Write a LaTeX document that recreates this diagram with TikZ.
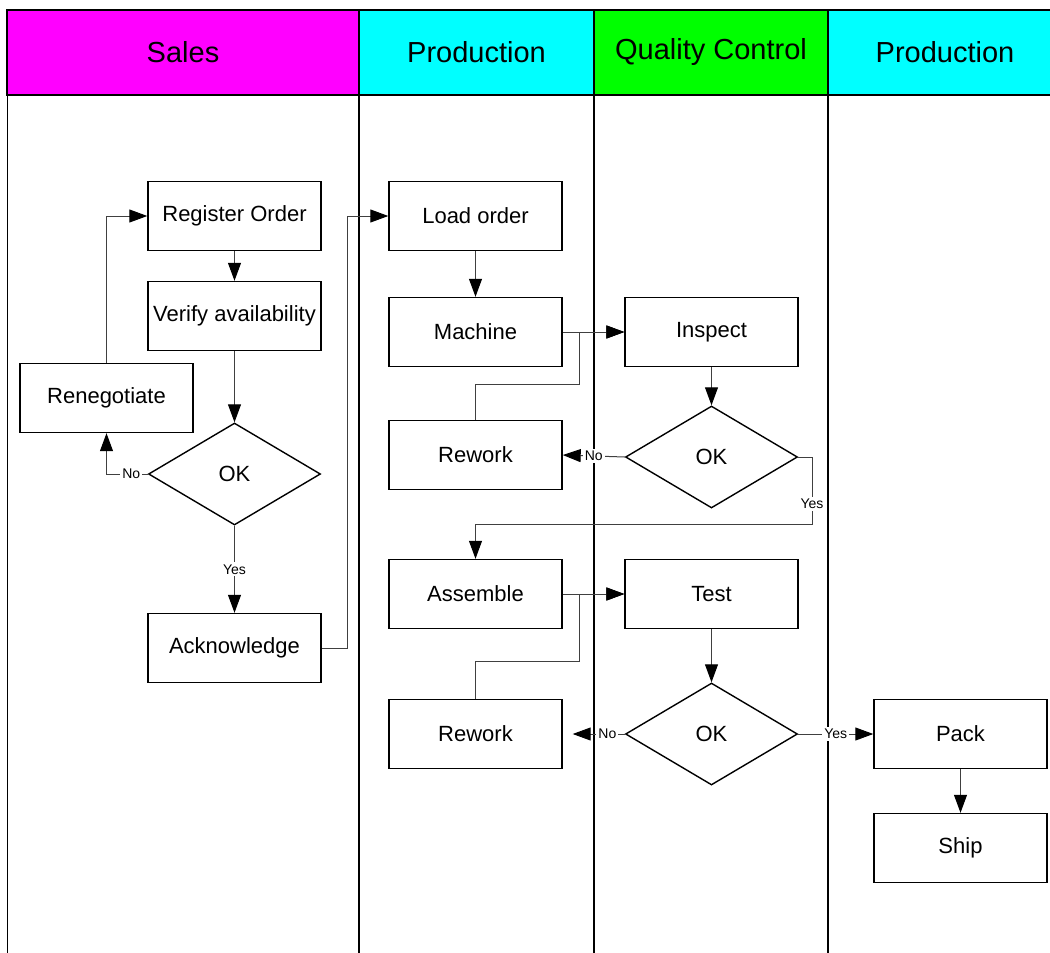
\documentclass[tikz,border=0pt]{standalone}
\usepackage{fontspec}
\setmainfont{Liberation Sans}
\usepackage{tikz}
\usetikzlibrary{shapes.geometric, arrows.meta, calc}
\definecolor{salespink}{HTML}{FF00FF}
\definecolor{prodcyan}{HTML}{00FFFF}
\definecolor{qcgreen}{HTML}{00FF00}
\definecolor{wiregray}{HTML}{404040}

\begin{document}
\begin{tikzpicture}[
      x=0.5pt, y=-0.5pt,
      lanehead/.style={
        minimum height=42.5pt,
        inner sep=0pt, outer sep=0pt,
        draw=black, line width=0.8pt,
        font=\fontsize{14.5}{17}\selectfont,
      },
      lane/.style={draw=black, line width=1pt},
      task/.style={
        minimum width=86.5pt,
        minimum height=34.5pt,
        inner sep=1pt,
        align=center,
        draw=black, line width=0.7pt,
        fill=white,
        font=\fontsize{11}{13}\selectfont,
      },
      check/.style={
        diamond,
        minimum width=86pt, minimum height=51pt,
        inner sep=0pt,
        draw=black, line width=0.7pt,
        fill=white,
        font=\fontsize{11}{13}\selectfont,
      },
      flow/.style={draw=wiregray, line width=0.5pt, -{Triangle[length=9pt,width=6.5pt,black]}},
      answer/.style={fill=white, inner sep=1pt, text=black, font=\fontsize{7}{8}\selectfont},
      ]
      \useasboundingbox (0,0) rectangle (1050,953);
      \clip (0,0) rectangle (1050,953);
      \node[lanehead, fill=salespink, minimum width=176pt] (sales) at (183,52.5) {Sales};
      \node[lanehead, fill=prodcyan, minimum width=117.5pt] (prod) at (476.5,52.5) {Production};
      \node[lanehead, fill=qcgreen, minimum width=117pt] (qc) at (711,52.5) {Quality Control};
      \node[lanehead, fill=prodcyan, minimum width=117pt] (prodtwo) at (945,52.5) {Production};
      \coordinate (floor) at (0,960);
      \draw[lane, line width=0.5pt] (sales.south west) -- (sales.south west |- floor);
      \draw[lane] (prod.south west) -- (prod.south west |- floor);
      \draw[lane] (qc.south west) -- (qc.south west |- floor);
      \draw[lane] (prodtwo.south west) -- (prodtwo.south west |- floor);

      \node[task] (register) at (234.5,216) {Register Order};
      \node[task] (verify) at (234.5,316) {Verify availability};
      \node[task] (reneg) at (106.5,398) {Renegotiate};
      \node[check] (ok1) at (234.5,474) {OK};
      \node[task] (ack) at (234.5,648) {Acknowledge};
      \node[task] (load) at (475.5,216) {Load order};
      \node[task] (machine) at (475.5,332) {Machine};
      \node[task] (rework1) at (475.5,455) {Rework};
      \node[task] (assemble) at (475.5,594) {Assemble};
      \node[task] (rework2) at (475.5,734) {Rework};
      \node[task] (inspect) at (711.5,332) {Inspect};
      \node[check] (ok2) at (711.5,457) {OK};
      \node[task] (test) at (711.5,594) {Test};
      \node[check] (ok3) at (711.5,734) {OK};
      \node[task] (pack) at (960.5,734) {Pack};
      \node[task] (ship) at (960.5,848) {Ship};
      \coordinate (ackturn) at (347,216);
      \coordinate (machjoin) at (579,384);
      \coordinate (asmjoin) at (579,661);
      \coordinate (yesturn) at (812,524);

      \draw[flow] (register) -- (verify);
      \draw[flow] (verify) -- (ok1);
      \draw[flow] (ok1.west) -| node[answer, pos=0.2] {No} (reneg.south);
      \draw[flow] (reneg.north) |- (register.west);
      \draw[flow] (ok1) -- node[answer] {Yes} (ack);
      \draw[flow] (ack.east) -| (ackturn) -- (load.west);
      \draw[flow] (load) -- (machine);
      \draw[flow] (machine) -- (inspect);
      \draw[flow] (rework1.north) |- (machjoin) |- (inspect.west);
      \draw[flow] (inspect) -- (ok2);
      \draw[flow] (ok2.west) -- node[answer] {No} (rework1.east);
      \draw[flow] (ok2.east) -| node[answer, pos=0.85] {Yes} (yesturn) -| (assemble.north);
      \draw[flow] (assemble) -- (test);
      \draw[flow] (rework2.north) |- (asmjoin) |- (test.west);
      \draw[flow] (test) -- (ok3);
      \draw[flow, shorten >=5pt] (ok3.west) -- node[answer, pos=0.28] {No} (rework2.east);
      \draw[flow] (ok3.east) -- node[answer] {Yes} (pack.west);
      \draw[flow] (pack) -- (ship);
    \end{tikzpicture}
\end{document}
